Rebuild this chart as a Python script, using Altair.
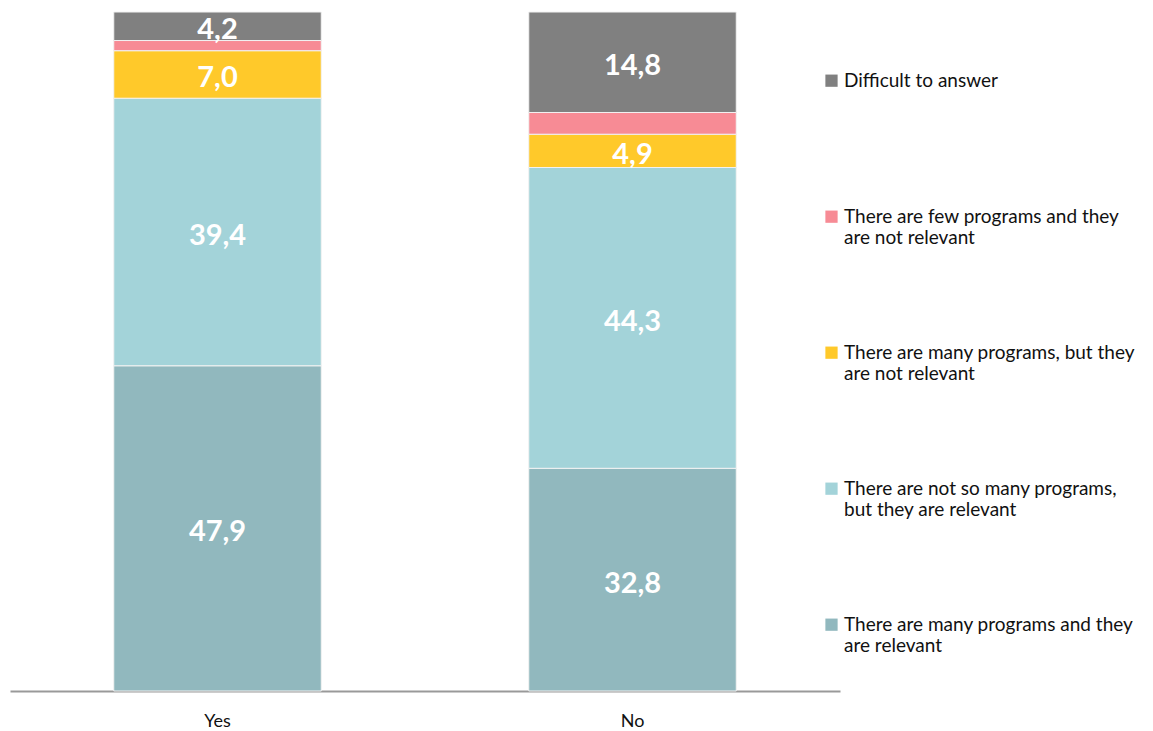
import altair as alt
import pandas as pd

answers = ["Yes", "No"]
categories = [
    "There are many programs and they are relevant",
    "There are not so many programs, but they are relevant",
    "There are many programs, but they are not relevant",
    "There are few programs and they are not relevant",
    "Difficult to answer",
]
yes_values = [47.9, 39.4, 7.0, 1.5, 4.2]
no_values = [32.8, 44.3, 4.9, 3.2, 14.8]
colors = ["#91B8BE", "#A3D3D9", "#FFC92A", "#F78B95", "#808080"]

rows = []
for a, vals in zip(answers, [yes_values, no_values]):
    for i, (c, v) in enumerate(zip(categories, vals)):
        rows.append({"answer": a, "category": c, "value": v, "order": i,
                     "label": f"{v:.1f}".replace(".", ",")})
df = pd.DataFrame(rows)

legend_order = categories[::-1]

base = alt.Chart(df)

bars = base.mark_bar(stroke="#f2f2f2", strokeWidth=1).encode(
    x=alt.X("answer:N", sort=answers, title=None,
            scale=alt.Scale(paddingInner=0.5, paddingOuter=0.25),
            axis=alt.Axis(labelAngle=0, labelFont="Lato", labelFontSize=18,
                          labelColor="#111111", ticks=False, domainColor="#999999",
                          domainWidth=2, labelPadding=21)),
    y=alt.Y("value:Q", stack="zero", axis=None, scale=alt.Scale(domain=[0, 100], nice=False)),
    color=alt.Color("category:N", scale=alt.Scale(domain=categories, range=colors),
                    sort=legend_order,
                    legend=alt.Legend(
                        title=None, orient="none", legendX=812, legendY=50,
                        symbolType="M-1,0.5H1V2.5H-1Z", symbolSize=150, symbolStrokeWidth=0,
                        labelFont="Lato", labelFontSize=19, labelColor="#111111",
                        labelLimit=400, rowPadding=86, symbolOffset=0,
                        labelExpr="split(datum.label == 'Difficult to answer' ? 'Difficult to answer| ' : datum.label == 'There are many programs and they are relevant' ? 'There are many programs and they|are relevant' : datum.label == 'There are not so many programs, but they are relevant' ? 'There are not so many programs,|but they are relevant' : datum.label == 'There are many programs, but they are not relevant' ? 'There are many programs, but they|are not relevant' : 'There are few programs and they|are not relevant', '|')",
                        labelBaseline="top", labelOffset=3,
                        values=legend_order)),
    order=alt.Order("order:Q"),
)

text = base.transform_stack(
    stack="value", groupby=["answer"], as_=["y0", "y1"],
    sort=[alt.SortField("order", order="ascending")]
).transform_calculate(
    mid="(datum.y0 + datum.y1) / 2"
).transform_filter("datum.value > 4").mark_text(
    font="Lato", fontSize=29, fontWeight="bold", color="white", baseline="middle", dy=4
).encode(
    x=alt.X("answer:N", sort=answers),
    y=alt.Y("mid:Q", scale=alt.Scale(domain=[0, 100], nice=False)),
    text="label:N",
)

chart = alt.layer(bars, text).properties(
    width=830, height=679,
    padding={"left": 10, "top": 12, "right": 313, "bottom": 40},
    autosize=alt.AutoSizeParams(type="none"),
).configure_view(stroke=None)

chart.save("out.html", embed_options={"renderer": "svg", "actions": False})
